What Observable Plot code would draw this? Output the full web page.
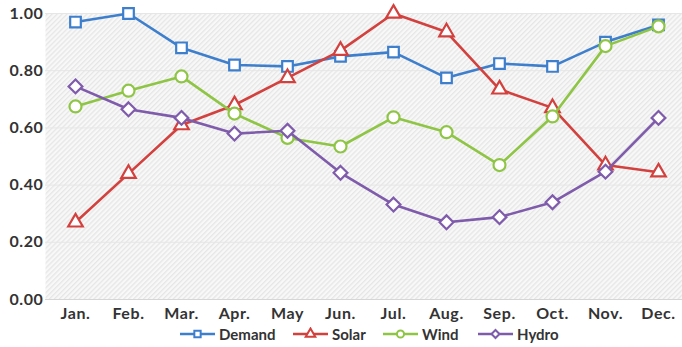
<!DOCTYPE html>
<html>
<head>
<meta charset="utf-8">
<script src="https://cdn.jsdelivr.net/npm/d3@7"></script>
<script src="https://cdn.jsdelivr.net/npm/@observablehq/plot@0.6"></script>
<style>
  html, body { margin: 0; padding: 0; background: #fff; }
  body { width: 682px; height: 347px; overflow: hidden; font-family: Lato, "Open Sans", sans-serif; }
  #legend { position: relative; height: 25px; font-weight: bold; font-size: 15px; color: #333; }
  .item { display: flex; align-items: center; position: absolute; }
  .item svg { margin-right: 3px; }
</style>
</head>
<body>
<div id="chart"></div>
<div id="legend"></div>
<script>
const months = ["Jan.", "Feb.", "Mar.", "Apr.", "May", "Jun.", "Jul.", "Aug.", "Sep.", "Oct.", "Nov.", "Dec."];
const seriesNames = ["Demand", "Solar", "Wind", "Hydro"];
const demand = [0.97, 1.00, 0.88, 0.82, 0.815, 0.85, 0.865, 0.775, 0.825, 0.815, 0.90, 0.96];
const solar  = [0.27, 0.44, 0.61, 0.68, 0.775, 0.87, 1.00, 0.935, 0.735, 0.67, 0.47, 0.445];
const wind   = [0.675, 0.73, 0.78, 0.65, 0.565, 0.535, 0.637, 0.585, 0.47, 0.64, 0.886, 0.955];
const hydro  = [0.745, 0.665, 0.635, 0.58, 0.59, 0.443, 0.332, 0.27, 0.288, 0.34, 0.447, 0.635];
const yTicks = [0, 0.2, 0.4, 0.6, 0.8, 1.0];

const colors = {Demand: "#3e7fcd", Solar: "#d2413e", Wind: "#8fc545", Hydro: "#7f5bab"};
const symbols = {Demand: "square", Solar: "triangle", Wind: "circle", Hydro: "diamond2"};
const radii = {Demand: 6.0, Solar: 5.4, Wind: 6.0, Hydro: 6.2};

const all = {Demand: demand, Solar: solar, Wind: wind, Hydro: hydro};
const rows = seriesNames.flatMap(s => months.map((m, i) => ({series: s, month: m, value: all[s][i]})));

const marks = [
  Plot.frame({fill: "url(#hatch)", stroke: null}),
  Plot.ruleY(yTicks.slice(1), {stroke: "#e6e6e6", strokeWidth: 1}),
  Plot.ruleY([0], {stroke: "#d6d6d6", strokeWidth: 1}),
];
for (const s of seriesNames) {
  const d = rows.filter(r => r.series === s);
  marks.push(Plot.line(d, {x: "month", y: "value", stroke: colors[s], strokeWidth: 2.6}));
  marks.push(Plot.dot(d, {x: "month", y: "value", stroke: colors[s], fill: "white", strokeWidth: 2.2, symbol: symbols[s], r: radii[s]}));
}

const chart = Plot.plot({
  width: 682,
  height: 322,
  marginTop: 13,
  marginBottom: 23,
  marginLeft: 45,
  marginRight: 0,
  style: {fontFamily: "Lato, 'Open Sans', sans-serif", fontSize: "16px", fontWeight: "bold", color: "#333", background: "white", letterSpacing: "0.6px"},
  x: {type: "point", domain: months, range: [72, 661.5], padding: 0, label: null, tickSize: 0, tickPadding: 8},
  y: {domain: [0, 1], ticks: yTicks, tickFormat: d3.format(".2f"), label: null, tickSize: 0, tickPadding: 2},
  marks
});

const defs = document.createElementNS("http://www.w3.org/2000/svg", "defs");
defs.innerHTML = `<pattern id="hatch" patternUnits="userSpaceOnUse" width="3.5" height="3.5" patternTransform="rotate(-45)">
  <rect width="3.5" height="3.5" fill="#f8f8f8"/>
  <rect width="3.5" height="1.3" fill="#e6e6e6"/>
</pattern>`;
chart.insertBefore(defs, chart.firstChild);
document.getElementById("chart").appendChild(chart);

// Legend
const legend = document.getElementById("legend");
const legendX = {Demand: 179, Solar: 292, Wind: 382, Hydro: 477};
for (const s of seriesNames) {
  const item = document.createElement("div");
  item.className = "item";
  item.style.left = legendX[s] + "px";
  item.style.top = "3px";
  const sym = d3.symbol(s === "Demand" ? d3.symbolSquare : s === "Solar" ? d3.symbolTriangle : s === "Wind" ? d3.symbolCircle : d3.symbolDiamond2, 40)();
  item.innerHTML = `<svg width="37" height="14"><line x1="1" x2="36" y1="7" y2="7" stroke="${colors[s]}" stroke-width="2.4"/><path d="${sym}" transform="translate(18.5,7)" fill="white" stroke="${colors[s]}" stroke-width="2"/></svg><span>${s}</span>`;
  legend.appendChild(item);
}
</script>
</body>
</html>
